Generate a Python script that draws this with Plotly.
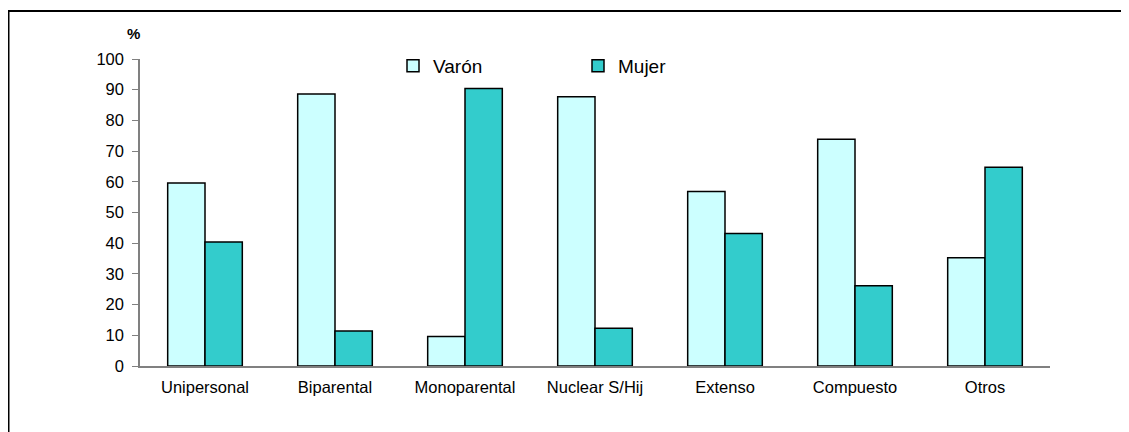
import plotly.graph_objects as go

categories = ["Unipersonal", "Biparental", "Monoparental", "Nuclear S/Hij", "Extenso", "Compuesto", "Otros"]
varon = [59.6, 88.6, 9.6, 87.7, 56.8, 73.9, 35.3]
mujer = [40.4, 11.4, 90.4, 12.3, 43.2, 26.1, 64.7]
y_ticks = [0, 10, 20, 30, 40, 50, 60, 70, 80, 90, 100]

# page body has an 8px margin; work in page pixels and convert
OFF = 8
W, H = 1129 - OFF, 432 - OFF
PL, PR, PT, PB = 140, 1050, 59, 366  # plot area in page pixels
ML, MR, MT, MB = PL - OFF, W - (PR - OFF), PT - OFF, H - (PB - OFF)
pw, ph = W - ML - MR, H - MT - MB

def px_x(px):
    return (px - OFF - ML) / pw

def px_y(py):
    return (H - MB - (py - OFF)) / ph

FONT = "Liberation Sans, Arial, sans-serif"

fig = go.Figure()
fig.add_trace(go.Bar(name="Varón", x=categories, y=varon,
                     marker=dict(color="#CCFFFF", line=dict(color="#000000", width=1.5))))
fig.add_trace(go.Bar(name="Mujer", x=categories, y=mujer,
                     marker=dict(color="#33CCCC", line=dict(color="#000000", width=1.5))))

fig.update_layout(
    width=W, height=H,
    margin=dict(l=ML, r=MR, t=MT, b=MB, pad=0),
    paper_bgcolor="white", plot_bgcolor="white",
    barmode="group", bargap=0.426, bargroupgap=0,
    font=dict(family=FONT, size=16, color="#000000"),
    showlegend=True,
    legend=dict(orientation="h", x=px_x(393), y=px_y(66), xanchor="left", yanchor="middle",
                font=dict(size=19, family=FONT), entrywidth=140, bgcolor="rgba(0,0,0,0)",
                traceorder="normal", itemwidth=30),
    xaxis=dict(showline=True, linecolor="#808080", linewidth=2, ticks="", showgrid=False,
               tickfont=dict(size=16.5), ticklabelstandoff=5, zeroline=False),
    yaxis=dict(range=[0, 100], tickvals=y_ticks, showline=True, linecolor="#808080", linewidth=1.5,
               ticks="outside", ticklen=6, tickcolor="#808080", showgrid=False, zeroline=False,
               tickfont=dict(size=16.5), ticklabelstandoff=5),
    annotations=[dict(text="<b>%</b>", xref="paper", yref="paper", x=px_x(133), y=px_y(34),
                      xanchor="center", yanchor="middle", showarrow=False,
                      font=dict(size=15, family=FONT))],
    shapes=[
        dict(type="line", xref="paper", yref="paper", x0=px_x(8), x1=px_x(1140), y0=px_y(11), y1=px_y(11),
             line=dict(color="black", width=2)),
        dict(type="line", xref="paper", yref="paper", x0=px_x(8.5), x1=px_x(8.5), y0=px_y(11), y1=px_y(445),
             line=dict(color="black", width=2)),
    ],
)

fig.write_html("out.html")
